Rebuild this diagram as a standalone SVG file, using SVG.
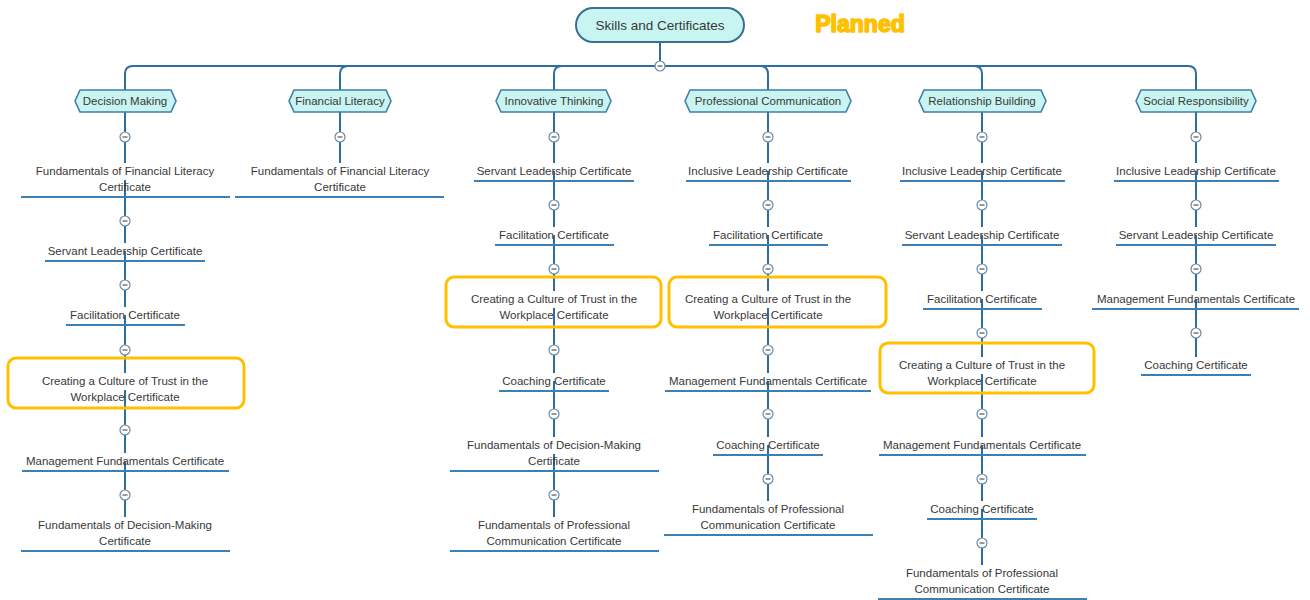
<svg xmlns="http://www.w3.org/2000/svg" width="1310" height="600" viewBox="0 0 1310 600">
  <style>
    text { font-family: "Liberation Sans", Arial, sans-serif; fill: #383838; }
    .leaf { font-size: 11.5px; text-anchor: middle; dominant-baseline: central; }
    .cat text { font-size: 11.5px; text-anchor: middle; dominant-baseline: central; }
    .cat polygon { fill: #c8f4f1; stroke: #3f7ea6; stroke-width: 1.6; }
    .ul { stroke: #3a80b3; stroke-width: 2; }
    .wire { fill: none; stroke: #2f6e9c; stroke-width: 2; }
    .hl { fill: none; stroke: #ffc000; stroke-width: 3; }
  </style>
  <defs>
    <g id="toggle">
      <circle r="5" fill="#ffffff" stroke="#6a8aa3" stroke-width="1.2"/>
      <line x1="-2.5" y1="0" x2="2.5" y2="0" stroke="#555" stroke-width="1.2"/>
    </g>
  </defs>
  <rect width="1310" height="600" fill="#ffffff"/>

  <!-- connectors -->
  <g id="connectors">
    <path class="wire" d="M660,42 V66"/>
    <path class="wire" d="M125,91 V74 Q125,66 133,66 H1188 Q1196,66 1196,74 V91"/>
    <path class="wire" d="M340,91 V74 Q340,66 348,66"/>
    <path class="wire" d="M554,91 V74 Q554,66 562,66"/>
    <path class="wire" d="M760,66 Q768,66 768,74 V91"/>
    <path class="wire" d="M974,66 Q982,66 982,74 V91"/>
    <!-- column: Decision Making -->
    <path class="wire" d="M125,112 V163 M125,180 V243 M125,251 V307 M125,315 V373 M125,390 V453 M125,461 V517"/>
    <!-- column: Financial Literacy -->
    <path class="wire" d="M340,112 V163"/>
    <!-- column: Innovative Thinking -->
    <path class="wire" d="M554,112 V163 M554,171 V227 M554,235 V291 M554,308 V373 M554,381 V437 M554,454 V517"/>
    <!-- column: Professional Communication -->
    <path class="wire" d="M768,112 V163 M768,171 V227 M768,235 V291 M768,308 V373 M768,381 V437 M768,445 V501"/>
    <!-- column: Relationship Building -->
    <path class="wire" d="M982,112 V163 M982,171 V227 M982,235 V291 M982,299 V357 M982,374 V437 M982,445 V501 M982,509 V565"/>
    <!-- column: Social Responsibility -->
    <path class="wire" d="M1196,112 V163 M1196,171 V227 M1196,235 V291 M1196,299 V357"/>
    <!-- collapse toggles -->
    <use href="#toggle" x="660" y="66"/>
    <use href="#toggle" x="125" y="137"/><use href="#toggle" x="125" y="221"/><use href="#toggle" x="125" y="285"/>
    <use href="#toggle" x="125" y="350"/><use href="#toggle" x="125" y="430"/><use href="#toggle" x="125" y="495"/>
    <use href="#toggle" x="340" y="137"/>
    <use href="#toggle" x="554" y="137"/><use href="#toggle" x="554" y="205"/><use href="#toggle" x="554" y="269"/>
    <use href="#toggle" x="554" y="350"/><use href="#toggle" x="554" y="414"/><use href="#toggle" x="554" y="495"/>
    <use href="#toggle" x="768" y="137"/><use href="#toggle" x="768" y="205"/><use href="#toggle" x="768" y="269"/>
    <use href="#toggle" x="768" y="350"/><use href="#toggle" x="768" y="414"/><use href="#toggle" x="768" y="479"/>
    <use href="#toggle" x="982" y="137"/><use href="#toggle" x="982" y="205"/><use href="#toggle" x="982" y="269"/>
    <use href="#toggle" x="982" y="333"/><use href="#toggle" x="982" y="414"/><use href="#toggle" x="982" y="479"/>
    <use href="#toggle" x="982" y="543"/>
    <use href="#toggle" x="1196" y="137"/><use href="#toggle" x="1196" y="205"/><use href="#toggle" x="1196" y="269"/>
    <use href="#toggle" x="1196" y="333"/>
  </g>

  <!-- root -->
  <g id="root">
    <rect x="576" y="8" width="168" height="34" rx="17" fill="#c8f4f1" stroke="#3a6f92" stroke-width="2"/>
    <text x="660" y="25" font-size="13.5" text-anchor="middle" dominant-baseline="central">Skills and Certificates</text>
  </g>
  <text id="status" x="860" y="24" font-size="23" font-weight="bold" text-anchor="middle" dominant-baseline="central" style="fill:#ffc000;stroke:#ffc000;stroke-width:1.6;stroke-linejoin:round">Planned</text>

  <!-- categories -->
  <g id="cat-decision" class="cat"><polygon points="75,101 80,90 171,90 176,101 171,112 80,112"/><text x="125" y="101">Decision Making</text></g>
  <g id="cat-financial" class="cat"><polygon points="289,101 294,90 386,90 391,101 386,112 294,112"/><text x="340" y="101">Financial Literacy</text></g>
  <g id="cat-innovative" class="cat"><polygon points="496,101 501,90 606,90 611,101 606,112 501,112"/><text x="554" y="101">Innovative Thinking</text></g>
  <g id="cat-professional" class="cat"><polygon points="685,101 690,90 846,90 851,101 846,112 690,112"/><text x="768" y="101">Professional Communication</text></g>
  <g id="cat-relationship" class="cat"><polygon points="919,101 924,90 1041,90 1046,101 1041,112 924,112"/><text x="982" y="101">Relationship Building</text></g>
  <g id="cat-social" class="cat"><polygon points="1136,101 1141,90 1251,90 1256,101 1251,112 1141,112"/><text x="1196" y="101">Social Responsibility</text></g>

  <!-- Decision Making leaves -->
  <g id="dm-1"><text class="leaf" x="125" y="171">Fundamentals of Financial Literacy</text><text class="leaf" x="125" y="187">Certificate</text><line class="ul" x1="21" y1="197" x2="230" y2="197"/></g>
  <g id="dm-2"><text class="leaf" x="125" y="251">Servant Leadership Certificate</text><line class="ul" x1="45" y1="261" x2="205" y2="261"/></g>
  <g id="dm-3"><text class="leaf" x="125" y="315">Facilitation Certificate</text><line class="ul" x1="66" y1="325" x2="185" y2="325"/></g>
  <g id="dm-4"><text class="leaf" x="125" y="381">Creating a Culture of Trust in the</text><text class="leaf" x="125" y="397">Workplace Certificate</text><rect class="hl" x="8" y="358" width="236" height="50" rx="8"/></g>
  <g id="dm-5"><text class="leaf" x="125" y="461">Management Fundamentals Certificate</text><line class="ul" x1="22" y1="471" x2="229" y2="471"/></g>
  <g id="dm-6"><text class="leaf" x="125" y="525">Fundamentals of Decision-Making</text><text class="leaf" x="125" y="541">Certificate</text><line class="ul" x1="21" y1="551" x2="230" y2="551"/></g>

  <!-- Financial Literacy leaves -->
  <g id="fl-1"><text class="leaf" x="340" y="171">Fundamentals of Financial Literacy</text><text class="leaf" x="340" y="187">Certificate</text><line class="ul" x1="235" y1="197" x2="444" y2="197"/></g>

  <!-- Innovative Thinking leaves -->
  <g id="it-1"><text class="leaf" x="554" y="171">Servant Leadership Certificate</text><line class="ul" x1="474" y1="181" x2="634" y2="181"/></g>
  <g id="it-2"><text class="leaf" x="554" y="235">Facilitation Certificate</text><line class="ul" x1="495" y1="245" x2="614" y2="245"/></g>
  <g id="it-3"><text class="leaf" x="554" y="299">Creating a Culture of Trust in the</text><text class="leaf" x="554" y="315">Workplace Certificate</text><rect class="hl" x="446" y="277" width="215" height="50" rx="8"/></g>
  <g id="it-4"><text class="leaf" x="554" y="381">Coaching Certificate</text><line class="ul" x1="499" y1="391" x2="609" y2="391"/></g>
  <g id="it-5"><text class="leaf" x="554" y="445">Fundamentals of Decision-Making</text><text class="leaf" x="554" y="461">Certificate</text><line class="ul" x1="450" y1="471" x2="659" y2="471"/></g>
  <g id="it-6"><text class="leaf" x="554" y="525">Fundamentals of Professional</text><text class="leaf" x="554" y="541">Communication Certificate</text><line class="ul" x1="450" y1="551" x2="659" y2="551"/></g>

  <!-- Professional Communication leaves -->
  <g id="pc-1"><text class="leaf" x="768" y="171">Inclusive Leadership Certificate</text><line class="ul" x1="686" y1="181" x2="851" y2="181"/></g>
  <g id="pc-2"><text class="leaf" x="768" y="235">Facilitation Certificate</text><line class="ul" x1="709" y1="245" x2="828" y2="245"/></g>
  <g id="pc-3"><text class="leaf" x="768" y="299">Creating a Culture of Trust in the</text><text class="leaf" x="768" y="315">Workplace Certificate</text><rect class="hl" x="669" y="277" width="217" height="50" rx="8"/></g>
  <g id="pc-4"><text class="leaf" x="768" y="381">Management Fundamentals Certificate</text><line class="ul" x1="665" y1="391" x2="871" y2="391"/></g>
  <g id="pc-5"><text class="leaf" x="768" y="445">Coaching Certificate</text><line class="ul" x1="713" y1="455" x2="823" y2="455"/></g>
  <g id="pc-6"><text class="leaf" x="768" y="509">Fundamentals of Professional</text><text class="leaf" x="768" y="525">Communication Certificate</text><line class="ul" x1="664" y1="535" x2="873" y2="535"/></g>

  <!-- Relationship Building leaves -->
  <g id="rb-1"><text class="leaf" x="982" y="171">Inclusive Leadership Certificate</text><line class="ul" x1="900" y1="181" x2="1065" y2="181"/></g>
  <g id="rb-2"><text class="leaf" x="982" y="235">Servant Leadership Certificate</text><line class="ul" x1="902" y1="245" x2="1062" y2="245"/></g>
  <g id="rb-3"><text class="leaf" x="982" y="299">Facilitation Certificate</text><line class="ul" x1="923" y1="309" x2="1042" y2="309"/></g>
  <g id="rb-4"><text class="leaf" x="982" y="365">Creating a Culture of Trust in the</text><text class="leaf" x="982" y="381">Workplace Certificate</text><rect class="hl" x="880" y="343" width="214" height="50" rx="8"/></g>
  <g id="rb-5"><text class="leaf" x="982" y="445">Management Fundamentals Certificate</text><line class="ul" x1="879" y1="455" x2="1086" y2="455"/></g>
  <g id="rb-6"><text class="leaf" x="982" y="509">Coaching Certificate</text><line class="ul" x1="927" y1="519" x2="1037" y2="519"/></g>
  <g id="rb-7"><text class="leaf" x="982" y="573">Fundamentals of Professional</text><text class="leaf" x="982" y="589">Communication Certificate</text><line class="ul" x1="878" y1="599" x2="1087" y2="599"/></g>

  <!-- Social Responsibility leaves -->
  <g id="sr-1"><text class="leaf" x="1196" y="171">Inclusive Leadership Certificate</text><line class="ul" x1="1114" y1="181" x2="1279" y2="181"/></g>
  <g id="sr-2"><text class="leaf" x="1196" y="235">Servant Leadership Certificate</text><line class="ul" x1="1116" y1="245" x2="1276" y2="245"/></g>
  <g id="sr-3"><text class="leaf" x="1196" y="299">Management Fundamentals Certificate</text><line class="ul" x1="1092" y1="309" x2="1299" y2="309"/></g>
  <g id="sr-4"><text class="leaf" x="1196" y="365">Coaching Certificate</text><line class="ul" x1="1141" y1="375" x2="1251" y2="375"/></g>
</svg>
